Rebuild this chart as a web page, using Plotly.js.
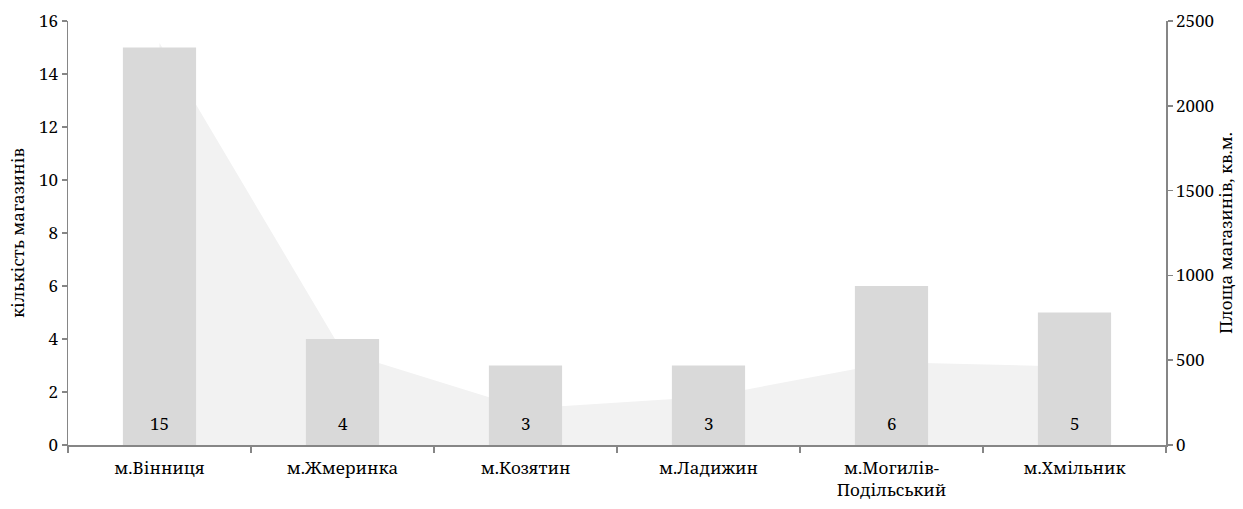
<!DOCTYPE html>
<html><head><meta charset="utf-8">
<script src="https://cdn.plot.ly/plotly-3.0.1.min.js"></script>
<style>html,body{margin:0;padding:0;background:#fff}#chart{width:1243px;height:509px}</style>
</head><body>
<div id="chart"></div>
<script>
const categories = ["м.Вінниця","м.Жмеринка","м.Козятин","м.Ладижин","м.Могилів-<br>Подільський","м.Хмільник"];
const storeCounts = [15, 4, 3, 3, 6, 5];
const storeArea = [2370, 550, 215, 285, 488, 462];
const leftTicks = [0,2,4,6,8,10,12,14,16];
const rightTicks = [0,500,1000,1500,2000,2500];

const FAM = "Noto Serif";
const font = {family: FAM, color: "#000", size: 17};

const areaTrace = {
  type: "scatter", mode: "none", x: categories, y: storeArea,
  fill: "tozeroy", fillcolor: "#f2f2f2", yaxis: "y", hoverinfo: "skip"
};
const barTrace = {
  type: "bar", x: categories, y: storeCounts, yaxis: "y2",
  marker: {color: "#d9d9d9"}, width: 0.4
};
const annotations = categories.map((c, i) => ({
  x: c, y: 0, yref: "y2", xref: "x", text: String(storeCounts[i]),
  showarrow: false, yanchor: "bottom", yshift: 8,
  font: {family: FAM, size: 17, color: "#000"}
}));

const axisLine = {showline: true, linecolor: "#868686", linewidth: 1.5, ticks: "outside", tickcolor: "#868686", ticklen: 5, tickwidth: 1.5, showgrid: false, zeroline: false, tickfont: font};

const layout = {
  width: 1243, height: 509,
  margin: {l: 68, r: 77, t: 21, b: 64},
  paper_bgcolor: "#fff", plot_bgcolor: "rgba(0,0,0,0)",
  showlegend: false, bargap: 0.6,
  font: font,
  xaxis: Object.assign({}, axisLine, {type: "category", tickson: "boundaries", ticklen: 6, ticklabelstandoff: 7, tickfont: {family: FAM, size: 17, color: "#000"}}),
  yaxis: Object.assign({}, axisLine, {side: "right", range: [0, 2500], tickvals: rightTicks, ticktext: rightTicks.map(String),
    title: {text: "Площа магазинів, кв.м.", font: {family: FAM, size: 17, color: "#000"}, standoff: 4}}),
  yaxis2: Object.assign({}, axisLine, {side: "left", overlaying: "y", range: [0, 16], tickvals: leftTicks, ticktext: leftTicks.map(String),
    title: {text: "кількість магазинів", font: {family: FAM, size: 17, color: "#000"}, standoff: 10}}),
  annotations: annotations
};
Plotly.newPlot("chart", [areaTrace, barTrace], layout, {displayModeBar: false, staticPlot: true});
</script></body></html>
